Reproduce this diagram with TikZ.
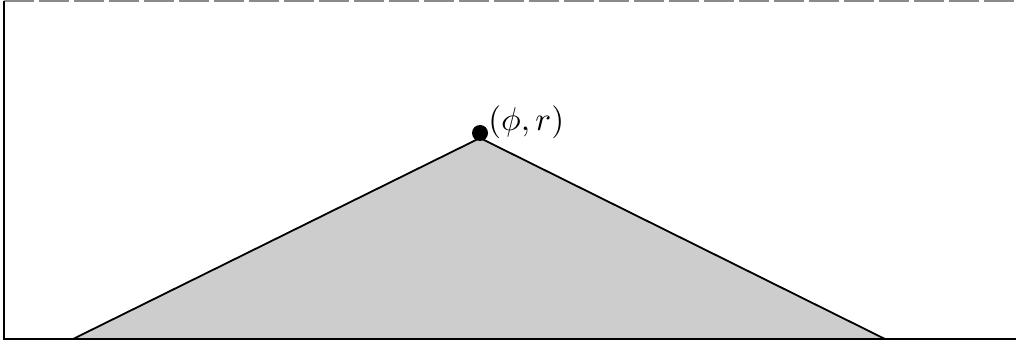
\documentclass[tikz,border=0pt]{standalone}
\usepackage{amsmath,amssymb}
\usepackage{tikz}
\usetikzlibrary{positioning}
\definecolor{HillGray}{HTML}{CDCDCD}
\definecolor{EdgeGray}{HTML}{8A8A8A}

\begin{document}
\begin{tikzpicture}[
x=1pt,y=1pt,
frame/.style={line width=2pt,black},
hill/.style={fill=HillGray,draw=black,line width=1.8pt,line join=round},
dot/.style={circle,fill=black,inner sep=0pt,minimum size=16pt},
lbl/.style={scale=3.3,inner sep=0.5pt}
]
\useasboundingbox (0,0) rectangle (1016,343);
\coordinate (bl) at (4,4);
\coordinate (br) at (1016,4);
\coordinate (tl) at (4,342);
\coordinate (tr) at (1016,342);
\coordinate (foot1) at (73,4);
\coordinate (top) at (480,205);
\coordinate (foot2) at (885,4);
% the slope
\filldraw[hill] (foot1) -- (top) -- (foot2);
% box round it
\draw[EdgeGray,line width=1.2pt,dash pattern=on 30pt off 5pt] (tl) -- (tr);
\draw[frame] (tl) -- (bl) -- (br);
\node[dot] (apex) at (480,210) {};
\node[lbl,anchor=west] (pt) at (486,221) {$(\phi, r)$};
\end{tikzpicture}
\end{document}
